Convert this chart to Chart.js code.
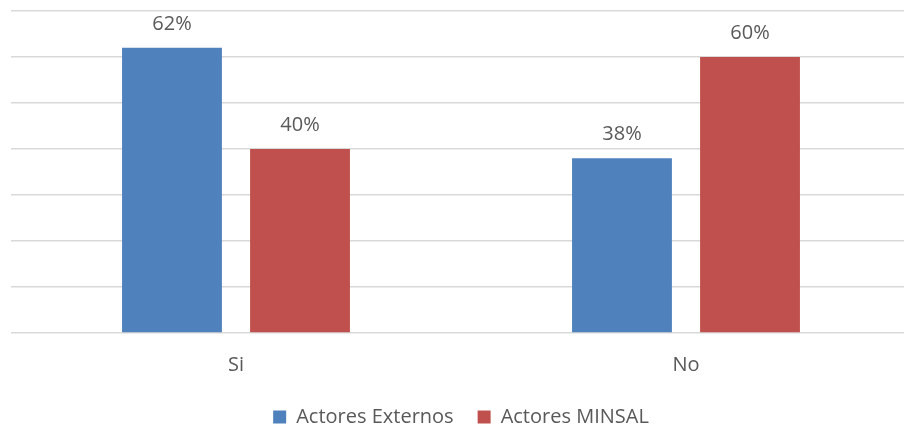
<!DOCTYPE html>
<html>
<head>
<meta charset="utf-8">
<script src="https://cdn.jsdelivr.net/npm/chart.js@4/dist/chart.umd.min.js"></script>
<style>
  html, body { margin: 0; padding: 0; background: #fff; overflow: hidden; }
  #wrap { width: 904px; height: 427px; overflow: hidden; }
  #box { width: 922px; height: 437px; }
</style>
</head>
<body>
<div id="wrap"><div id="box"><canvas id="chart"></canvas></div></div>
<script>
const categories = ["Si", "No"];
const externos = [62, 38];
const minsal = [40, 60];
const seriesNames = ["Actores Externos", "Actores MINSAL"];

const textColor = "#595959";
const fontFamily = "'Open Sans', 'Noto Sans', sans-serif";

// draws the % value above each bar
const valueLabels = {
    id: "valueLabels",
    afterDatasetsDraw(chart) {
        const ctx = chart.ctx;
        ctx.save();
        ctx.fillStyle = textColor;
        ctx.font = "20px " + fontFamily;
        ctx.textAlign = "center";
        ctx.textBaseline = "alphabetic";
        chart.data.datasets.forEach((ds, i) => {
            chart.getDatasetMeta(i).data.forEach((bar, j) => {
                ctx.fillText(ds.data[j] + "%", bar.x, bar.y - 18);
            });
        });
        ctx.restore();
    }
};

new Chart(document.getElementById("chart"), {
    type: "bar",
    data: {
        labels: categories,
        datasets: [{
            label: seriesNames[0],
            data: externos,
            backgroundColor: "#4F81BD",
            barPercentage: 0.78,
            categoryPercentage: 0.569
        }, {
            label: seriesNames[1],
            data: minsal,
            backgroundColor: "#C0504D",
            barPercentage: 0.78,
            categoryPercentage: 0.569
        }]
    },
    options: {
        responsive: true,
        maintainAspectRatio: false,
        animation: false,
        layout: { padding: { top: 11, left: 11, right: 11, bottom: 0 } },
        plugins: {
            tooltip: { enabled: false },
            legend: {
                position: "bottom",
                labels: {
                    color: textColor,
                    font: { family: fontFamily, size: 20 },
                    boxWidth: 13,
                    boxHeight: 13,
                    padding: 24
                }
            }
        },
        scales: {
            x: {
                grid: { display: false },
                border: { display: false },
                ticks: { color: textColor, font: { family: fontFamily, size: 20 }, padding: 12 },
                afterFit(scale) { scale.height = 50; }
            },
            y: {
                min: 0,
                max: 70,
                ticks: { display: false, stepSize: 10 },
                grid: { color: "#D9D9D9", lineWidth: 1.5, drawTicks: false },
                border: { display: false }
            }
        }
    },
    plugins: [valueLabels]
});
</script>
</body>
</html>
